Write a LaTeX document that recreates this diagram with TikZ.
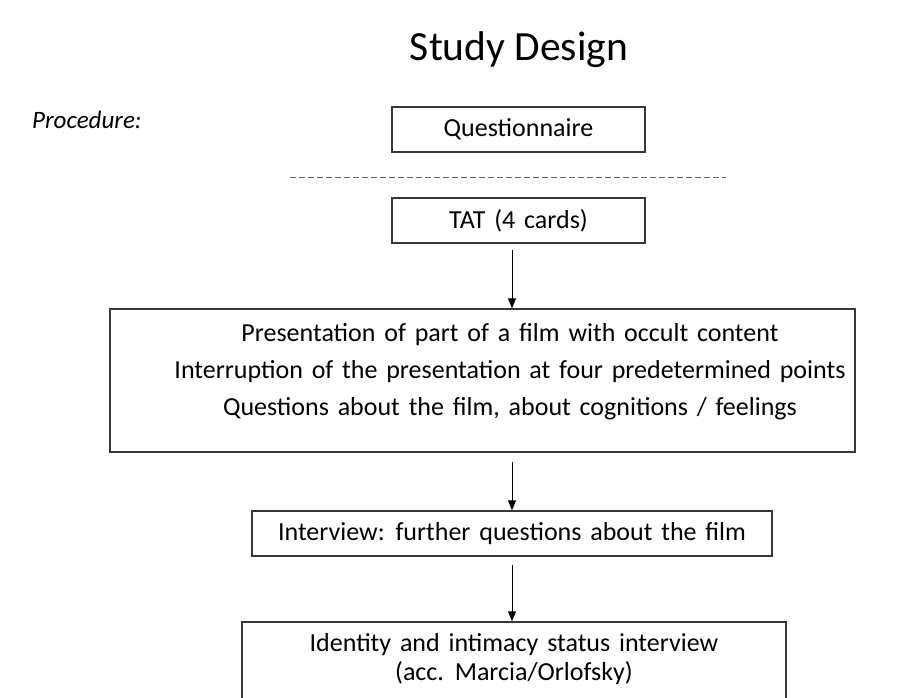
\documentclass[tikz,border=0pt]{standalone}
\usepackage{fontspec}
\setmainfont{Carlito}[WordSpace=1.5]
\newfontfamily\titlefont{Carlito}
\usetikzlibrary{arrows.meta}
\definecolor{boxgray}{HTML}{383838}
\definecolor{dashgray}{HTML}{666666}
\begin{document}
\begin{tikzpicture}[x=1pt,y=-1pt,
  box/.style={draw=boxgray, line width=1.4pt, inner sep=0pt, font=\fontsize{26}{30}\selectfont, align=center},
  arr/.style={-{Triangle[length=10pt,width=8pt]}, line width=1pt, black},
  txt/.style={inner sep=0pt, align=center},
  dashline/.style={draw=dashgray, line width=1pt, dash pattern=on 6pt off 3pt}]
\useasboundingbox (0,0) rectangle (916,697);
\clip (0,0) rectangle (916,697);
\node[txt, anchor=base, font=\titlefont\fontsize{41.5}{48}\selectfont] (title) at (519,60) {Study Design};
\node[txt, anchor=base west, font=\fontsize{25}{30}\selectfont\itshape] (proc) at (32,128) {Procedure:};
\node[box, minimum width=253pt, minimum height=45pt] (quest) at (518.5,129.5) {Questionnaire};
\coordinate (dl) at (290,177);
\coordinate (dr) at (726,177);
\draw[dashline] (dl) -- (dr);
\node[box, minimum width=253pt, minimum height=45pt] (tat) at (518.5,220.5) {TAT (4 cards)};
\node[box, minimum width=745pt, minimum height=143pt] (film) at (482.5,380.5) {};
\node[txt, font=\fontsize{26}{37}\selectfont] (filmtext) at (510,372) {Presentation of part of a film with occult content\\Interruption of the presentation at four predetermined points\\Questions about the film, about cognitions / feelings};
\node[box, minimum width=520pt, minimum height=45pt] (inter) at (512,533.5) {Interview: further questions about the film};
\node[box, minimum width=544pt, minimum height=100pt] (ident) at (514,672) {};
\node[txt, font=\fontsize{26}{29}\selectfont] (identtext) at (514,659) {Identity and intimacy status interview\\(acc. Marcia/Orlofsky)};
\coordinate (ax) at (512,0);
\draw[arr, shorten <=6pt] (tat.south -| ax) -- (film.north -| ax);
\draw[arr, shorten <=9pt] (film.south -| ax) -- (inter.north -| ax);
\draw[arr, shorten <=8pt] (inter.south -| ax) -- (ident.north -| ax);
\end{tikzpicture}
\end{document}
